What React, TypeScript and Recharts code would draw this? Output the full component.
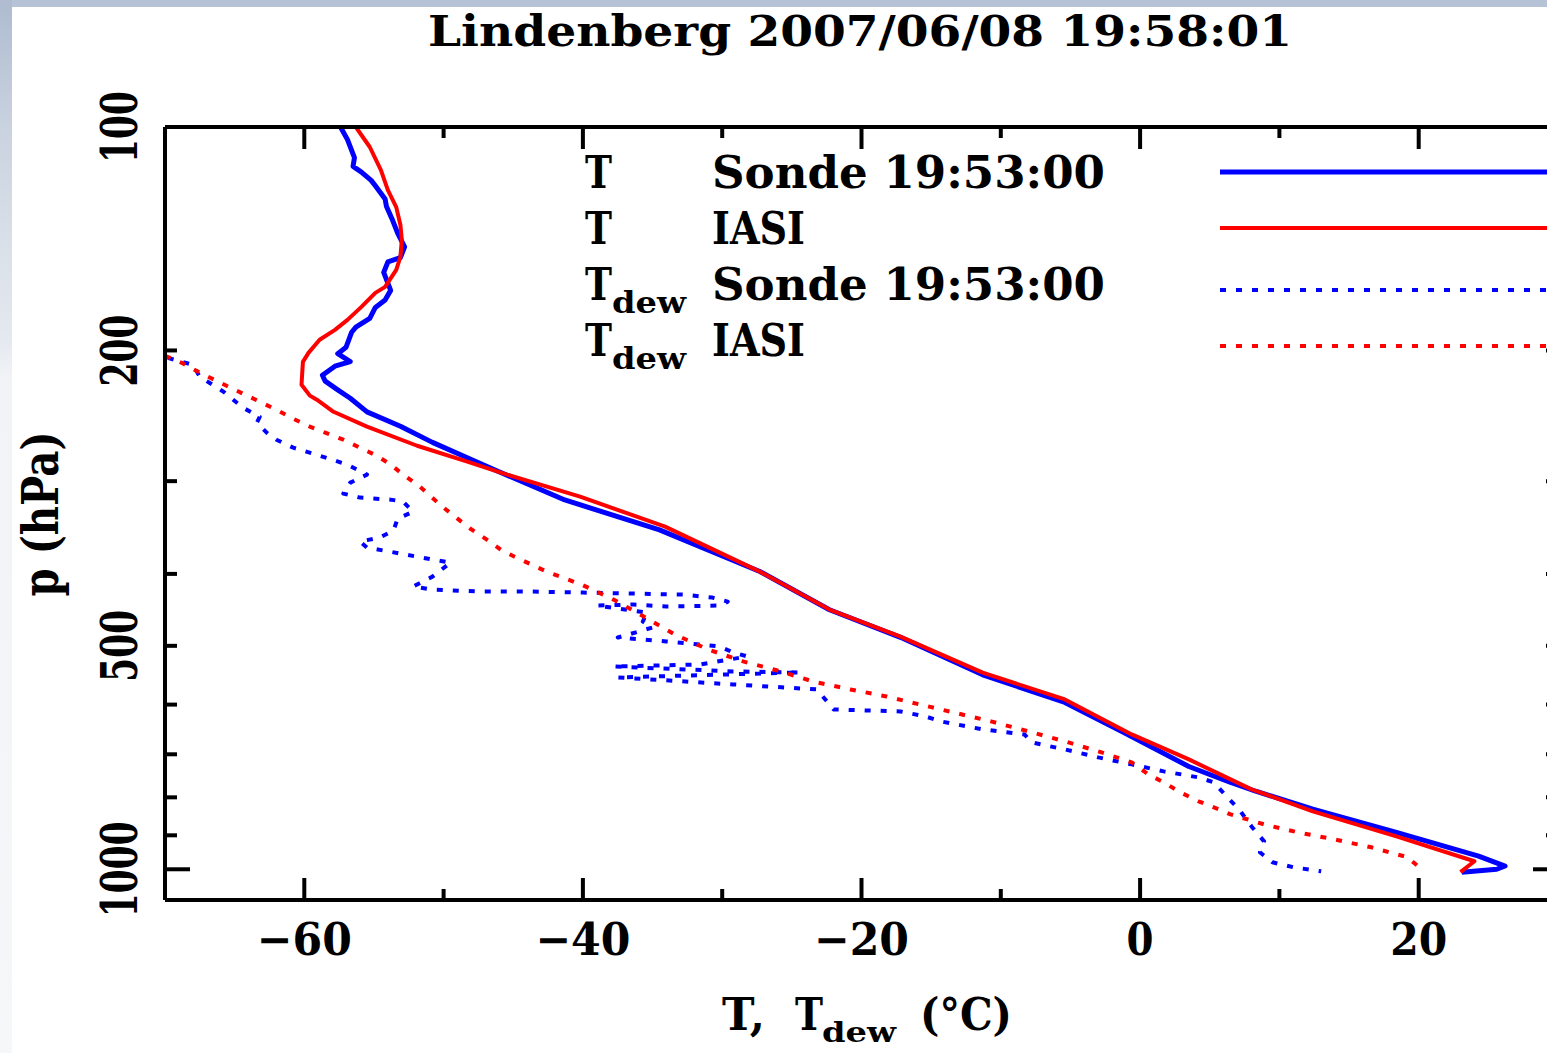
import React from 'react';
import { LineChart, Line, XAxis, YAxis, Legend } from 'recharts';

const W = 1600;
const H = 1053;
const FONT = '"DejaVu Serif", "Liberation Serif", serif';

// [temperature °C, pressure hPa]
const T_SONDE: [number, number][] = [
  [23.1, 1009], [25.6, 1000], [26.2, 990], [24.3, 960], [18.4, 892], [12.4, 830], [8.3, 785],
  [6.5, 764], [3.5, 727], [-1.2, 654], [-5.4, 596], [-11.3, 547], [-17.2, 487], [-22.3, 447],
  [-27.3, 397], [-34.5, 349], [-41.3, 318], [-45.9, 292], [-48.3, 279], [-50.8, 266],
  [-53.1, 253], [-55.5, 242], [-56.7, 232], [-57.6, 226], [-58.5, 220], [-58.7, 216],
  [-57.8, 210], [-56.7, 207], [-57.6, 202], [-57.0, 198], [-56.6, 189], [-56.3, 186],
  [-55.3, 181], [-54.9, 175], [-54.2, 171], [-53.8, 166], [-54.3, 157], [-54.0, 152],
  [-53.1, 150], [-52.8, 145], [-53.3, 139], [-53.7, 133], [-54.1, 128], [-54.2, 125],
  [-54.9, 120], [-55.2, 118], [-55.9, 115], [-56.5, 113], [-56.4, 110], [-56.9, 104], [-57.4, 100],
];

const T_IASI: [number, number][] = [
  [-56.3, 100], [-55.3, 106.4], [-54.5, 114.3], [-54.0, 121.6], [-53.4, 128.2], [-53.1, 135.5],
  [-53.0, 141.9], [-53.1, 149.6], [-53.4, 155.8], [-54.2, 164.2], [-54.9, 167.3], [-55.9, 174.7],
  [-56.9, 181.9], [-57.8, 187.6], [-58.9, 193.5], [-59.7, 201.5], [-60.1, 207.2], [-60.2, 222.5],
  [-59.6, 230.1], [-59.1, 233.0], [-57.9, 241.9], [-55.5, 253.3], [-51.9, 268.8], [-48.3, 282.4],
  [-45.9, 292.2], [-40.2, 314.8], [-34.1, 345.4], [-27.3, 397.2], [-22.3, 446.8], [-17.2, 485.9],
  [-11.3, 543.3], [-5.4, 590.5], [-0.6, 658.1], [3.5, 711.2], [8.0, 780.4], [12.4, 835.6],
  [18.4, 902.8], [24.0, 975.5], [23.0, 1009],
];

const TDEW_SONDE: [number, number][] = [
  [-69.8, 204.7], [-68.0, 209.1], [-67.5, 217.0], [-65.8, 227.3], [-64.4, 238.9], [-63.2, 245.7],
  [-63.4, 250.2], [-62.7, 258.1], [-62.0, 263.8], [-60.8, 270.4], [-58.9, 277.2], [-56.9, 285.0],
  [-55.5, 294.0], [-56.7, 301.4], [-57.2, 311.8], [-56.0, 315.7], [-53.8, 317.7], [-52.9, 319.7],
  [-52.2, 329.8], [-53.3, 337.0], [-53.6, 349.7], [-54.6, 357.4], [-56.0, 361.8], [-55.5, 368.6],
  [-53.1, 375.6], [-50.8, 382.6], [-49.5, 386.2], [-50.8, 403.4], [-52.2, 416.0], [-50.8, 420.0],
  [-47.2, 422.6], [-43.6, 422.6], [-40.0, 423.9], [-36.4, 425.2], [-32.8, 426.5], [-30.7, 430.5],
  [-29.6, 435.9], [-30.2, 441.3], [-34.0, 442.6], [-36.4, 439.9], [-39.0, 441.3], [-35.4, 451.0],
  [-35.7, 463.7], [-35.0, 472.4], [-37.5, 487.3], [-34.0, 493.3], [-30.2, 501.0], [-29.2, 510.4],
  [-28.2, 516.8], [-31.6, 529.8], [-37.8, 533.1], [-29.2, 541.3], [-24.4, 543.0], [-37.5, 551.5],
  [-29.2, 563.6], [-23.2, 572.4], [-22.0, 609.1], [-17.2, 612.9], [-15.4, 622.5], [-14.3, 632.1],
  [-11.3, 648.0], [-8.3, 658.1], [-7.8, 674.6], [-5.4, 689.5], [-3.0, 706.8], [-0.6, 722.3],
  [1.7, 738.1], [4.2, 752.0], [5.3, 763.7], [6.2, 797.5], [7.1, 830.4], [8.0, 875.5],
  [8.9, 917], [8.6, 948.7], [9.5, 978.6], [11.0, 993.8], [13.0, 1006.2],
];

const TDEW_IASI: [number, number][] = [
  [-70.0, 203.4], [-68.8, 207.8], [-67.5, 214.3], [-65.3, 224.5], [-64.1, 230.1], [-62.0, 240.4],
  [-60.8, 247.2], [-59.6, 253.3], [-58.5, 258.1], [-57.2, 263.8], [-56.0, 270.4], [-54.8, 277.2],
  [-53.8, 285.0], [-52.9, 294.0], [-51.7, 305.2], [-50.0, 325.7], [-48.1, 347.5], [-46.9, 359.6],
  [-45.9, 370.9], [-44.9, 379.3], [-42.6, 397.2], [-40.1, 413.5], [-37.8, 433.2], [-35.5, 458.0],
  [-33.4, 482.8], [-31.0, 505.7], [-28.5, 524.8], [-25.8, 541.3], [-23.5, 558.4], [-20.8, 572.4],
  [-18.2, 585.1], [-14.3, 609.1], [-10.7, 632.1], [-8.0, 652.0], [-5.4, 672.5], [-3.0, 693.7],
  [-0.6, 717.8], [0.6, 745.0], [1.7, 763.7], [2.9, 787.9], [4.2, 809.9], [5.3, 825.4],
  [6.5, 843.4], [8.9, 870.0], [11.3, 891.6], [13.9, 911.1], [16.6, 934.1], [19.2, 963.4], [20.2, 1000],
];

const X_TICKS = [-60, -50, -40, -30, -20, -10, 0, 10, 20];
const X_LABELED = [-60, -40, -20, 0, 20];
const P_TICKS = [100, 200, 300, 400, 500, 600, 700, 800, 900, 1000];
const P_LABELED = [100, 200, 500, 1000];
const P_MAJOR = [100, 1000];

const toPts = (a: [number, number][]) => a.map(([t, p]) => ({ t, p }));

const SERIES = [
  { key: 'tSonde', sym: 'T', sub: '', text: 'Sonde 19:53:00', data: T_SONDE, color: '#0000ff', width: 5, dash: undefined },
  { key: 'tIasi', sym: 'T', sub: '', text: 'IASI', data: T_IASI, color: '#ff0000', width: 4, dash: undefined },
  { key: 'dSonde', sym: 'T', sub: 'dew', text: 'Sonde 19:53:00', data: TDEW_SONDE, color: '#0000ff', width: 4, dash: '6 10' },
  { key: 'dIasi', sym: 'T', sub: 'dew', text: 'IASI', data: TDEW_IASI, color: '#ff0000', width: 4, dash: '6 10' },
];

const txt = { fontFamily: FONT, fontWeight: 'bold' as const, fill: '#000' };
const fmt = (v: number) => (v < 0 ? `\u2212${-v}` : `${v}`);
const xLabelLen = (v: number) => (v < 0 ? 95 : v === 0 ? 27 : 57);

const BottomTick = ({ x, y, payload }: any) => {
  const major = X_LABELED.includes(payload.value);
  return (
    <g>
      <line x1={x} y1={y} x2={x} y2={y - (major ? 22 : 11)} stroke="#000" strokeWidth={4} />
      {major && (
        <text x={x} y={y + 55} textAnchor="middle" fontSize={45} textLength={xLabelLen(payload.value)}
          lengthAdjust="spacingAndGlyphs" {...txt}>
          {fmt(payload.value)}
        </text>
      )}
    </g>
  );
};

const TopTick = ({ x, y, payload }: any) => {
  const major = X_LABELED.includes(payload.value);
  return <line x1={x} y1={y} x2={x} y2={y + (major ? 22 : 11)} stroke="#000" strokeWidth={4} />;
};

const LeftTick = ({ x, y, payload }: any) => {
  const v = payload.value;
  const len = P_MAJOR.includes(v) ? 25 : 12;
  const lx = x - 28;
  return (
    <g>
      <line x1={x} y1={y} x2={x + len} y2={y} stroke="#000" strokeWidth={4} />
      {P_LABELED.includes(v) && (
        <text x={lx} y={y} transform={`rotate(-90, ${lx}, ${y})`} textAnchor="middle" fontSize={50}
          textLength={String(v).length * 24} lengthAdjust="spacingAndGlyphs" {...txt}>
          {v}
        </text>
      )}
    </g>
  );
};

const RightTick = ({ x, y, payload }: any) => {
  const len = P_MAJOR.includes(payload.value) ? 25 : 12;
  return <line x1={x} y1={y} x2={x - len} y2={y} stroke="#000" strokeWidth={4} />;
};

const XTitle = () => (
  <text y={1030} fontSize={45} {...txt}>
    <tspan x={722} textLength={43} lengthAdjust="spacingAndGlyphs">T,</tspan>
    <tspan x={795} textLength={28} lengthAdjust="spacingAndGlyphs">T</tspan>
    <tspan x={822} dy={12} fontSize={28} textLength={74} lengthAdjust="spacingAndGlyphs">dew</tspan>
    <tspan x={920} dy={-12} textLength={92} lengthAdjust="spacingAndGlyphs">(°C)</tspan>
  </text>
);

const YTitle = () => (
  <text x={58} y={514} transform="rotate(-90, 58, 514)" textAnchor="middle" fontSize={50}
    textLength={165} lengthAdjust="spacingAndGlyphs" {...txt}>
    p (hPa)
  </text>
);

const renderLegend = () => (
  <svg width={990} height={240} style={{ overflow: 'visible' }}>
    {SERIES.map((s, i) => {
      const base = 48 + i * 56;
      const ly = 32 + i * 56 + (s.dash ? 6 : 0);
      return (
        <g key={s.key}>
          <text x={15} y={base} fontSize={45} textLength={27} lengthAdjust="spacingAndGlyphs" {...txt}>{s.sym}</text>
          {s.sub && (
            <text x={42} y={base + 13} fontSize={30} textLength={74} lengthAdjust="spacingAndGlyphs" {...txt}>{s.sub}</text>
          )}
          <text x={142} y={base} fontSize={45} textLength={s.text.length > 4 ? 393 : 93}
            lengthAdjust="spacingAndGlyphs" {...txt}>{s.text}</text>
          <line x1={650} y1={ly} x2={1000} y2={ly} stroke={s.color} strokeWidth={s.width}
            strokeDasharray={s.dash} />
        </g>
      );
    })}
  </svg>
);

export default function App() {
  const axisLine = { stroke: '#000', strokeWidth: 4 };
  return (
    <div style={{ position: 'fixed', left: 0, top: 0, width: 1547, height: 1053, overflow: 'hidden', background: '#fff' }}>
      <div style={{ position: 'absolute', left: 0, top: 0, width: 1547, height: 7, background: '#b6c2d5' }} />
      <div
        style={{
          position: 'absolute', left: 0, top: 0, width: 12, height: 1053,
          background: 'linear-gradient(to bottom, #aebbd0 0%, #c9d2df 12%, #dce2ea 25%, #e4e8ef 32%, #f1f3f6 36%, #f6f7f9 100%)',
        }}
      />
      <svg style={{ position: 'absolute', left: 0, top: 0 }} width={1547} height={60}>
        <text x={860} y={46} textAnchor="middle" fontSize={42} textLength={864} lengthAdjust="spacingAndGlyphs" {...txt}>
          Lindenberg 2007/06/08 19:58:01
        </text>
      </svg>
      <div style={{ position: 'absolute', left: 0, top: 0 }}>
        <LineChart width={W} height={H} margin={{ top: 97, right: 0, bottom: 0, left: 0 }}>
          <XAxis xAxisId="b" type="number" dataKey="t" domain={[-70, 30]} ticks={X_TICKS} interval={0}
            height={153} tickSize={0} tickMargin={0} tick={BottomTick} tickLine={false} axisLine={axisLine}
            allowDataOverflow label={{ content: () => <XTitle /> }} />
          <XAxis xAxisId="t" orientation="top" type="number" dataKey="t" domain={[-70, 30]} ticks={X_TICKS}
            interval={0} height={30} tickSize={0} tickMargin={0} tick={TopTick} tickLine={false}
            axisLine={axisLine} allowDataOverflow />
          <YAxis yAxisId="l" type="number" dataKey="p" scale="log" domain={[100, 1100]} reversed ticks={P_TICKS}
            interval={0} width={165} tickSize={0} tickMargin={0} tick={LeftTick} tickLine={false}
            axisLine={axisLine} allowDataOverflow label={{ content: () => <YTitle /> }} />
          <YAxis yAxisId="r" orientation="right" type="number" dataKey="p" scale="log" domain={[100, 1100]}
            reversed ticks={P_TICKS} interval={0} width={42} tickSize={0} tickMargin={0} tick={RightTick}
            tickLine={false} axisLine={axisLine} allowDataOverflow />
          <Legend verticalAlign="middle" align="center" layout="horizontal" content={renderLegend}
            wrapperStyle={{ left: 570, top: 140, width: 990, height: 240 }} />
          {SERIES.map((s) => (
            <Line key={s.key} xAxisId="b" yAxisId="l" data={toPts(s.data)} dataKey="p" type="linear"
              stroke={s.color} strokeWidth={s.width} strokeDasharray={s.dash} dot={false}
              activeDot={false} isAnimationActive={false} strokeLinejoin="round" />
          ))}
        </LineChart>
      </div>
    </div>
  );
}
